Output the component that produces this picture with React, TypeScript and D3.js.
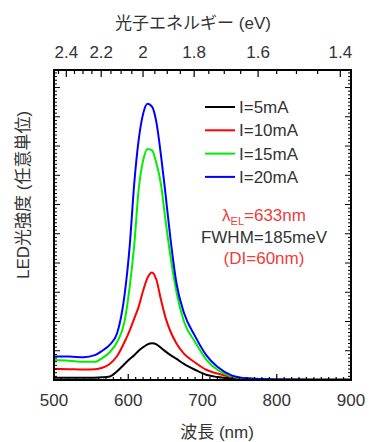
import React from 'react';
import * as d3 from 'd3';

// wavelength grid (nm) shared by all spectra
const wavelengths = [500, 520, 540, 555, 565, 575, 585, 595, 602, 608, 614, 620, 626, 632, 638, 644, 650, 657, 665, 675, 690, 705, 720, 740, 760, 800, 850, 900];
const i5mA = [0.08, 0.08, 0.08, 0.08, 0.09, 0.12, 0.3, 0.55, 0.72, 0.85, 1.0, 1.12, 1.22, 1.26, 1.22, 1.1, 0.98, 0.85, 0.72, 0.55, 0.35, 0.18, 0.1, 0.05, 0.03, 0.02, 0.01, 0.01];
const i10mA = [0.38, 0.37, 0.36, 0.37, 0.42, 0.55, 0.82, 1.3, 1.7, 2.1, 2.5, 3.05, 3.5, 3.68, 3.42, 2.75, 2.15, 1.65, 1.25, 0.9, 0.6, 0.35, 0.22, 0.1, 0.05, 0.02, 0.01, 0.01];
const i15mA = [0.68, 0.66, 0.62, 0.62, 0.75, 0.95, 1.3, 2.0, 3.2, 4.6, 6.5, 7.5, 7.9, 7.85, 7.4, 6.7, 5.5, 4.2, 3.0, 2.0, 1.3, 0.7, 0.35, 0.12, 0.05, 0.02, 0.01, 0.01];
const i20mA = [0.8, 0.8, 0.78, 0.85, 1.0, 1.2, 1.6, 2.9, 4.6, 6.7, 8.2, 9.1, 9.45, 9.35, 8.8, 7.7, 6.4, 4.8, 3.3, 2.3, 1.5, 0.85, 0.45, 0.15, 0.06, 0.02, 0.01, 0.01];

const seriesNames = ['I=5mA', 'I=10mA', 'I=15mA', 'I=20mA'];
const seriesColors = ['#000000', '#ff0000', '#00ee00', '#0000ff'];
const seriesValues = [i5mA, i10mA, i15mA, i20mA];

const bottomTicks = [500, 600, 700, 800, 900];
const energyTicks = [2.4, 2.2, 2.0, 1.8, 1.6, 1.4];
const energyLabels = ['2.4', '2.2', '2', '1.8', '1.6', '1.4'];

const W = 375;
const H = 442;
const m = { left: 54, right: 351, top: 70, bottom: 380 };
const font = "'Liberation Sans', Arial, 'Noto Sans CJK JP', sans-serif";
const textColor = '#333';
const annRed = '#f03c3c';

export default function App() {
  const x = d3.scaleLinear().domain([500, 900]).range([m.left, m.right]);
  const y = d3.scaleLinear().domain([0, 10.6]).range([m.bottom, m.top]);
  const xE = (e: number) => x(1239.84 / e);

  const line = d3
    .line<number>()
    .x((_, i) => x(wavelengths[i]))
    .y((d) => y(d))
    .curve(d3.curveMonotoneX);

  const minorX = d3.range(500, 901, 10);
  const minorE = d3.range(1.4, 2.476, 0.05).filter((e) => 1239.84 / e >= 500 && 1239.84 / e <= 900);
  const minorY = d3.range(0, 10.6, 0.125);

  return (
    <svg width={W} height={H} style={{ position: 'absolute', left: 0, top: 0, background: '#fff' }} fontFamily={font}>
      {/* spectra */}
      {seriesValues.map((vals, k) => (
        <path key={k} d={line(vals) || ''} fill="none" stroke={seriesColors[k]} strokeWidth={2} />
      ))}

      {/* ticks bottom / top */}
      {minorX.map((v) => {
        const len = v % 100 === 0 ? 6 : 3;
        return <line key={'bx' + v} x1={x(v)} x2={x(v)} y1={m.bottom} y2={m.bottom - len} stroke="#000" strokeWidth={1.2} />;
      })}
      {minorE.map((e) => {
        const major = Math.abs(e * 5 - Math.round(e * 5)) < 1e-6;
        const len = major ? 7 : 4;
        return <line key={'te' + e} x1={xE(e)} x2={xE(e)} y1={m.top} y2={m.top + len} stroke="#000" strokeWidth={1.2} />;
      })}
      {/* ticks left / right */}
      {minorY.map((v, i) => {
        const len = i % 8 === 0 ? 6 : 3;
        return (
          <g key={'y' + i}>
            <line x1={m.left} x2={m.left + len} y1={y(v)} y2={y(v)} stroke="#000" strokeWidth={1} />
            <line x1={m.right} x2={m.right - len} y1={y(v)} y2={y(v)} stroke="#000" strokeWidth={1} />
          </g>
        );
      })}

      {/* frame */}
      <rect x={m.left} y={m.top} width={m.right - m.left} height={m.bottom - m.top} fill="none" stroke="#000" strokeWidth={2} />

      {/* tick labels */}
      {bottomTicks.map((v) => (
        <text key={'bl' + v} x={x(v)} y={406} textAnchor="middle" fontSize={17} fill={textColor}>
          {v}
        </text>
      ))}
      {energyTicks.map((e, i) => (
        <text key={'tl' + e} x={xE(e)} y={58} textAnchor="middle" fontSize={17} fill={textColor}>
          {energyLabels[i]}
        </text>
      ))}

      {/* axis titles */}
      <text x={193} y={29} textAnchor="middle" fontSize={17} fill={textColor}>
        光子エネルギー (eV)
      </text>
      <text x={217} y={438} textAnchor="middle" fontSize={17} fill={textColor}>
        波長 (nm)
      </text>
      <text transform="translate(29,195) rotate(-90)" textAnchor="middle" fontSize={17} fill={textColor}>
        LED光強度 (任意単位)
      </text>

      {/* legend */}
      {seriesNames.map((name, k) => {
        const yy = 107 + k * 23.3;
        return (
          <g key={name}>
            <line x1={205} x2={235} y1={yy} y2={yy} stroke={seriesColors[k]} strokeWidth={2} />
            <text x={239} y={yy + 6} fontSize={17} fill={textColor}>
              {name}
            </text>
          </g>
        );
      })}

      {/* annotation */}
      <text x={264} y={221} textAnchor="middle" fontSize={17} fill={annRed}>
        λ<tspan fontSize={11} dy={4}>EL</tspan>
        <tspan dy={-4}>=633nm</tspan>
      </text>
      <text x={264} y={243} textAnchor="middle" fontSize={17} fill={textColor}>
        FWHM=185meV
      </text>
      <text x={264} y={264} textAnchor="middle" fontSize={17} fill={annRed}>
        (DI=60nm)
      </text>
    </svg>
  );
}
